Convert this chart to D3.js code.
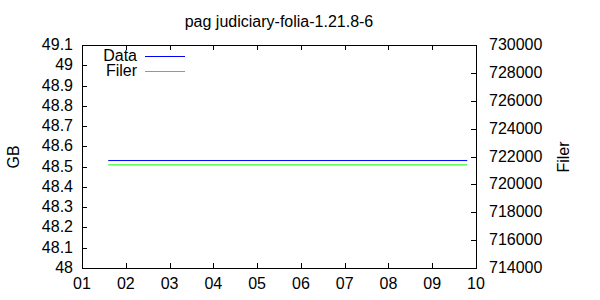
<!DOCTYPE html>
<html>
<head>
<meta charset="utf-8">
<script src="https://cdn.jsdelivr.net/npm/d3@7"></script>
<style>
  body { margin: 0; background: #fff; }
  svg { display: block; font-family: "Liberation Sans", Arial, sans-serif; }
</style>
</head>
<body>
<svg id="viz" width="600" height="300"></svg>
<script>
const width = 600;
const height = 300;
const svg = d3.select("#viz");

// データ (x は日付の日)
const days = [1.6, 9.8];
const dataGB = [48.53, 48.53];
const filer = [721400, 721400];
const xTicks = [1, 2, 3, 4, 5, 6, 7, 8, 9, 10];
const yTicks = [48, 48.1, 48.2, 48.3, 48.4, 48.5, 48.6, 48.7, 48.8, 48.9, 49, 49.1];
const y2Ticks = [714000, 716000, 718000, 720000, 722000, 724000, 726000, 728000, 730000];

const m = { left: 82, right: 476, top: 45, bottom: 268 };

const x = d3.scaleLinear().domain([1, 10]).range([m.left, m.right]);
const y = d3.scaleLinear().domain([48, 49.1]).range([m.bottom, m.top]);
const y2 = d3.scaleLinear().domain([714000, 730000]).range([m.bottom, m.top]);

const tick = 5;
const fs = 16;

// 枠
svg.append("rect")
    .attr("x", m.left + 0.5).attr("y", m.top + 0.5)
    .attr("width", m.right - m.left).attr("height", m.bottom - m.top)
    .attr("fill", "none").attr("stroke", "#000");

// x 目盛り (上下)
xTicks.forEach(t => {
    const px = Math.round(x(t)) + 0.5;
    svg.append("line").attr("x1", px).attr("x2", px)
        .attr("y1", m.bottom).attr("y2", m.bottom - tick).attr("stroke", "#000");
    svg.append("line").attr("x1", px).attr("x2", px)
        .attr("y1", m.top).attr("y2", m.top + tick).attr("stroke", "#000");
    svg.append("text").attr("x", x(t)).attr("y", m.bottom + 21)
        .attr("text-anchor", "middle").attr("font-size", fs)
        .text(d3.format("02d")(t));
});

// 左 y 目盛り
yTicks.forEach(t => {
    const py = Math.round(y(t)) + 0.5;
    svg.append("line").attr("x1", m.left).attr("x2", m.left + tick)
        .attr("y1", py).attr("y2", py).attr("stroke", "#000");
    svg.append("text").attr("x", m.left - 9).attr("y", y(t) + 5)
        .attr("text-anchor", "end").attr("font-size", fs)
        .text(d3.format("")(t));
});

// 右 y2 目盛り
y2Ticks.forEach(t => {
    const py = Math.round(y2(t)) + 0.5;
    svg.append("line").attr("x1", m.right).attr("x2", m.right - tick)
        .attr("y1", py).attr("y2", py).attr("stroke", "#000");
    svg.append("text").attr("x", m.right + 13).attr("y", y2(t) + 5)
        .attr("text-anchor", "start").attr("font-size", fs)
        .text(t);
});

// 線
const lineGB = d3.line().x((d, i) => x(days[i])).y(d => y(d));
const lineFiler = d3.line().x((d, i) => x(days[i])).y(d => y2(d));

svg.append("path").datum(dataGB).attr("d", lineGB)
    .attr("fill", "none").attr("stroke", "#0000ff").attr("stroke-width", 1);
svg.append("path").datum(filer).attr("d", lineFiler)
    .attr("fill", "none").attr("stroke", "#00ff00").attr("stroke-width", 1);

// タイトルとラベル
svg.append("text").attr("x", (m.left + m.right) / 2).attr("y", 27)
    .attr("text-anchor", "middle").attr("font-size", fs)
    .text("pag judiciary-folia-1.21.8-6");

svg.append("text").attr("transform", "translate(19,157) rotate(-90)")
    .attr("text-anchor", "middle").attr("font-size", fs).text("GB");
svg.append("text").attr("transform", "translate(569,157) rotate(-90)")
    .attr("text-anchor", "middle").attr("font-size", fs).text("Filer");

// 凡例
const legend = [{ name: "Data", color: "#0000ff", y: 56 }, { name: "Filer", color: "#00ff00", y: 71 }];
legend.forEach(d => {
    svg.append("text").attr("x", 137).attr("y", d.y + 5)
        .attr("text-anchor", "end").attr("font-size", fs).text(d.name);
    svg.append("line").attr("x1", 145).attr("x2", 185)
        .attr("y1", d.y + 0.5).attr("y2", d.y + 0.5)
        .attr("stroke", d.color);
});
</script>
</body>
</html>
